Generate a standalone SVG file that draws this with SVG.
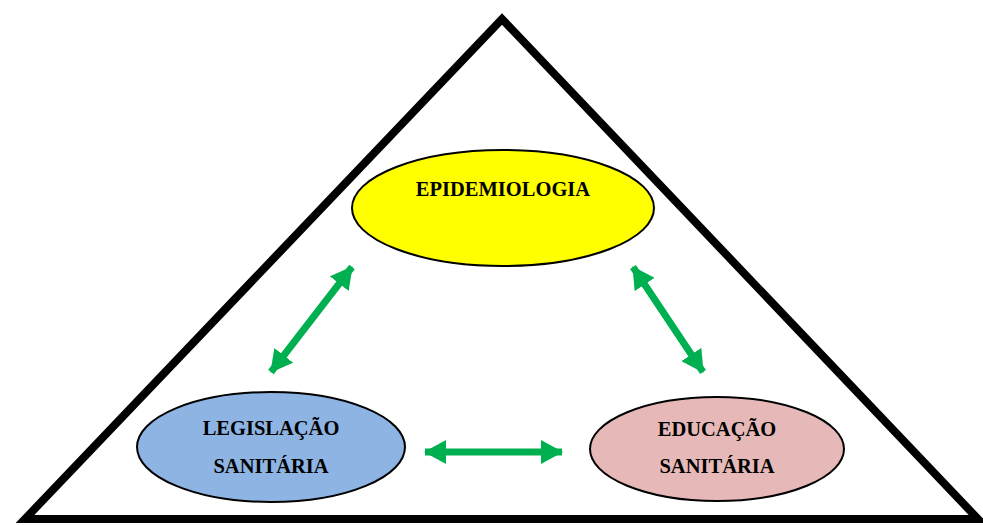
<svg xmlns="http://www.w3.org/2000/svg" width="983" height="525" viewBox="0 0 983 525">
<defs>
<style>
.lbl{font-family:"Liberation Serif","Times New Roman",serif;font-weight:bold;font-size:20.5px;fill:#000;text-anchor:middle}
.node{stroke:#000;stroke-width:2}
.conn{stroke:#00B050;stroke-width:7;fill:none}
</style>
<marker id="ah" viewBox="0 0 22 24" refX="21" refY="12" markerWidth="22" markerHeight="24" markerUnits="userSpaceOnUse" orient="auto-start-reverse">
<path d="M0,0 L22,12 L0,24 z" fill="#00B050"/>
</marker>
</defs>
<rect width="983" height="525" fill="#fff"/>
<g id="triangle">
<polygon points="502,19 25,519 978,519" fill="#fff" stroke="#000" stroke-width="8" stroke-linejoin="miter"/>
</g>
<g id="connectors">
<line class="conn" x1="352" y1="267" x2="271" y2="372" marker-start="url(#ah)" marker-end="url(#ah)"/>
<line class="conn" x1="633" y1="267" x2="703" y2="372" marker-start="url(#ah)" marker-end="url(#ah)"/>
<line class="conn" x1="425" y1="452" x2="562" y2="452" marker-start="url(#ah)" marker-end="url(#ah)"/>
</g>
<g id="epidemiologia">
<ellipse class="node" cx="503" cy="208" rx="151" ry="58" fill="#FFFF00"/>
<text class="lbl" x="503" y="196">EPIDEMIOLOGIA</text>
</g>
<g id="legislacao">
<ellipse class="node" cx="271" cy="447" rx="134" ry="55" fill="#8EB4E3"/>
<text class="lbl" x="271" y="435">LEGISLAÇÃO</text>
<text class="lbl" x="271" y="473">SANITÁRIA</text>
</g>
<g id="educacao">
<ellipse class="node" cx="717" cy="449" rx="127" ry="52" fill="#E6B9B8"/>
<text class="lbl" x="717" y="436">EDUCAÇÃO</text>
<text class="lbl" x="717" y="473">SANITÁRIA</text>
</g>
</svg>
